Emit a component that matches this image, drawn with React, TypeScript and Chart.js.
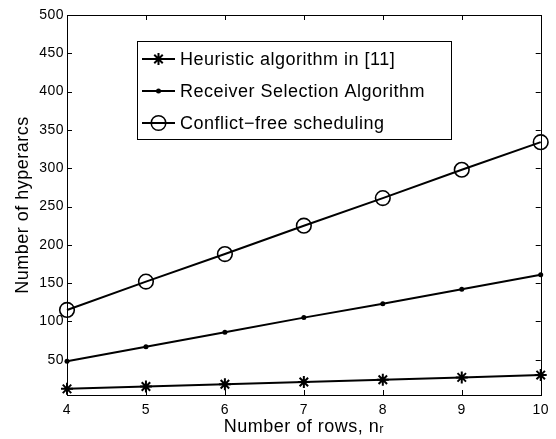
import React, { useEffect, useRef } from 'react';
import { Chart, registerables } from 'chart.js';

Chart.register(...registerables);

const rows = [4, 5, 6, 7, 8, 9, 10];
const heuristic = [12, 15, 18, 21, 24, 27, 30];
const receiver = [48, 67, 86, 105, 123, 142, 161];
const conflictFree = [115, 152, 188, 225, 261, 298, 334];
const xTicks = [4, 5, 6, 7, 8, 9, 10];
const yTicks = [50, 100, 150, 200, 250, 300, 350, 400, 450, 500];
const seriesLabels = [
  'Heuristic algorithm in [11]',
  'Receiver Selection Algorithm',
  'Conflict\u2212free scheduling',
];
const xTitle = 'Number of rows, n\u1D63';
const yTitle = 'Number of hyperarcs';

const FONT = '"Liberation Sans", Arial, Helvetica, sans-serif';
const SPACING = '0.5px';

function drawMarker(ctx: CanvasRenderingContext2D, style: string, x: number, y: number, r: number) {
  ctx.beginPath();
  if (style === 'star') {
    ctx.moveTo(x, y - r); ctx.lineTo(x, y + r);
    ctx.moveTo(x - r, y); ctx.lineTo(x + r, y);
    const d = Math.cos(Math.PI / 4) * r;
    ctx.moveTo(x - d, y - d); ctx.lineTo(x + d, y + d);
    ctx.moveTo(x - d, y + d); ctx.lineTo(x + d, y - d);
    ctx.stroke();
  } else if (style === 'dot') {
    ctx.arc(x, y, r, 0, Math.PI * 2);
    ctx.fill();
  } else {
    ctx.arc(x, y, r, 0, Math.PI * 2);
    ctx.stroke();
  }
}

const spacingPlugin = {
  id: 'spacing',
  beforeUpdate(chart: any) { chart.ctx.letterSpacing = SPACING; },
  beforeDraw(chart: any) { chart.ctx.letterSpacing = SPACING; },
};

const framePlugin = {
  id: 'frame',
  afterDraw(chart: any) {
    const { ctx, chartArea: a, scales } = chart;
    const x = scales.x, y = scales.y;
    ctx.save();
    ctx.strokeStyle = '#000';
    ctx.lineWidth = 1;
    ctx.strokeRect(Math.round(a.left) + 0.5, Math.round(a.top) + 0.5, Math.round(a.right - a.left), Math.round(a.bottom - a.top));
    const L = 5;
    ctx.beginPath();
    x.ticks.forEach((t: any) => {
      const px = Math.round(x.getPixelForValue(t.value)) + 0.5;
      ctx.moveTo(px, a.bottom); ctx.lineTo(px, a.bottom - L);
      ctx.moveTo(px, a.top); ctx.lineTo(px, a.top + L);
    });
    y.ticks.forEach((t: any) => {
      const py = Math.round(y.getPixelForValue(t.value)) + 0.5;
      ctx.moveTo(a.left, py); ctx.lineTo(a.left + L, py);
      ctx.moveTo(a.right, py); ctx.lineTo(a.right - L, py);
    });
    ctx.stroke();
    ctx.restore();
  },
};

const legendPlugin = {
  id: 'boxLegend',
  afterDraw(chart: any) {
    const { ctx } = chart;
    const left = 137, top = 41, right = 451, bottom = 139;
    ctx.save();
    ctx.letterSpacing = SPACING;
    ctx.fillStyle = '#fff';
    ctx.fillRect(left, top, right - left, bottom - top);
    ctx.strokeStyle = '#000';
    ctx.lineWidth = 1;
    ctx.strokeRect(left + 0.5, top + 0.5, right - left, bottom - top);
    const rowsY = [59, 91, 123];
    const styles = ['star', 'dot', 'circle'];
    const radii = [6, 2.5, 7.3];
    const widths = [2, 1.5, 1.5];
    chart.data.datasets.forEach((ds: any, i: number) => {
      const cy = rowsY[i];
      ctx.strokeStyle = '#000';
      ctx.fillStyle = '#000';
      ctx.lineWidth = 2;
      ctx.beginPath();
      ctx.moveTo(142, cy); ctx.lineTo(175, cy);
      ctx.stroke();
      ctx.lineWidth = widths[i];
      drawMarker(ctx, styles[i], 158.5, cy, radii[i]);
      ctx.font = `18px ${FONT}`;
      ctx.textBaseline = 'middle';
      ctx.textAlign = 'left';
      ctx.fillStyle = '#000';
      ctx.fillText(ds.label, 180, cy + 1);
    });
    ctx.restore();
  },
};

export default function App() {
  const ref = useRef<HTMLCanvasElement | null>(null);
  useEffect(() => {
    if (!ref.current) return;
    const chart = new Chart(ref.current, {
      type: 'line',
      data: {
        datasets: [
          {
            label: seriesLabels[0],
            data: rows.map((r, i) => ({ x: r, y: heuristic[i] })),
            borderColor: '#000',
            borderWidth: 2,
            pointStyle: 'star',
            pointRadius: 6,
            pointBorderWidth: 2,
            pointBorderColor: '#000',
            pointBackgroundColor: '#000',
            clip: false,
          },
          {
            label: seriesLabels[1],
            data: rows.map((r, i) => ({ x: r, y: receiver[i] })),
            borderColor: '#000',
            borderWidth: 2,
            pointStyle: 'circle',
            pointRadius: 2.5,
            pointBorderWidth: 0,
            pointBackgroundColor: '#000',
            clip: false,
          },
          {
            label: seriesLabels[2],
            data: rows.map((r, i) => ({ x: r, y: conflictFree[i] })),
            borderColor: '#000',
            borderWidth: 2,
            pointStyle: 'circle',
            pointRadius: 7.3,
            pointBorderWidth: 1.6,
            pointBorderColor: '#000',
            pointBackgroundColor: 'rgba(0,0,0,0)',
            clip: false,
          },
        ] as any,
      },
      options: {
        responsive: false,
        animation: false,
        devicePixelRatio: 1,
        layout: { padding: { left: 0, right: 13, top: 15, bottom: 0 } },
        plugins: { legend: { display: false }, tooltip: { enabled: false } },
        elements: { line: { tension: 0 } },
        scales: {
          x: {
            type: 'linear',
            min: 4,
            max: 10,
            afterBuildTicks: (s: any) => { s.ticks = xTicks.map((v) => ({ value: v })); },
            afterFit: (s: any) => { s.height = 44; },
            grid: { display: false, drawTicks: false },
            border: { display: true, color: '#000', width: 1 },
            ticks: { color: '#000', font: { family: FONT, size: 14 }, padding: 7, maxRotation: 0, autoSkip: false },
            title: { display: true, text: xTitle, color: '#000', font: { family: FONT, size: 18 }, padding: { top: 0, bottom: 1 } },
          },
          y: {
            type: 'linear',
            min: 4,
            max: 500,
            afterBuildTicks: (s: any) => { s.ticks = yTicks.map((v) => ({ value: v })); },
            afterFit: (s: any) => { s.width = 67; },
            grid: { display: false, drawTicks: false },
            border: { display: true, color: '#000', width: 1 },
            ticks: { color: '#000', font: { family: FONT, size: 14 }, padding: 3, autoSkip: false },
            title: { display: true, text: yTitle, color: '#000', font: { family: FONT, size: 18 }, padding: { top: 12, bottom: 0 } },
          },
        },
      } as any,
      plugins: [spacingPlugin, framePlugin, legendPlugin],
    });
    return () => chart.destroy();
  }, []);
  return (
    <div style={{ position: 'fixed', left: 0, top: 0, width: 556, height: 439, background: '#fff' }}>
      <canvas ref={ref} width={556} height={439} />
    </div>
  );
}
